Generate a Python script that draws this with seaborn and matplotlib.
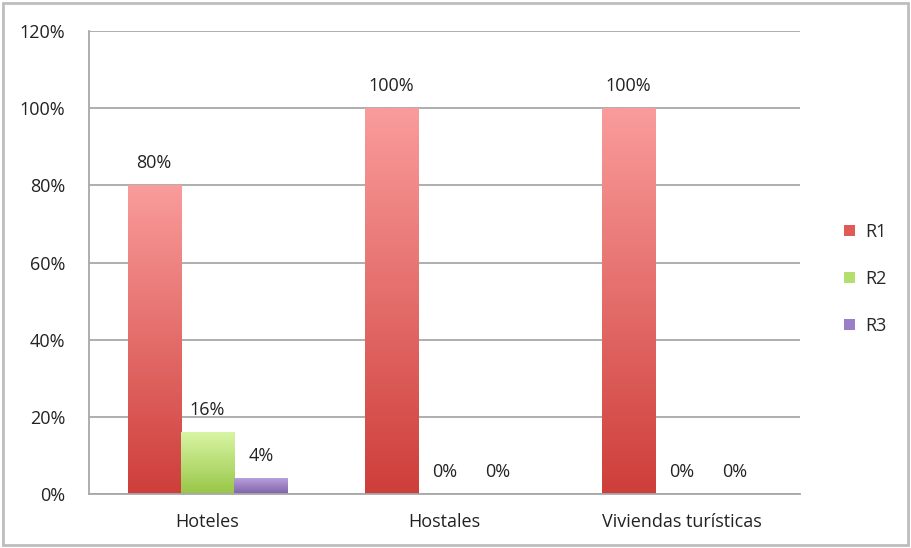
import numpy as np
import pandas as pd
import matplotlib
matplotlib.use("Agg")
import matplotlib.pyplot as plt
import seaborn as sns
from matplotlib.colors import LinearSegmentedColormap
from matplotlib.patches import Rectangle
from matplotlib.ticker import FuncFormatter, FixedLocator

categories = ["Hoteles", "Hostales", "Viviendas turísticas"]
series = ["R1", "R2", "R3"]
r1 = [80, 100, 100]
r2 = [16, 0, 0]
r3 = [4, 0, 0]

# gradient (top colour, bottom colour) per series
gradients = {
    "R1": ("#F99C9B", "#CE3E3A"),
    "R2": ("#D8F5A4", "#98C648"),
    "R3": ("#B8A0DC", "#7F62A8"),
}
legend_colors = {"R1": "#E05A58", "R2": "#B4DE6E", "R3": "#9A7EC8"}

df = pd.DataFrame({
    "cat": categories * 3,
    "serie": ["R1"] * 3 + ["R2"] * 3 + ["R3"] * 3,
    "val": r1 + r2 + r3,
})

sns.set_style("white")
plt.rcParams["font.family"] = ["Open Sans", "DejaVu Sans"]
FS = 13

fig = plt.figure(figsize=(9.11, 5.48), dpi=100)
ax = fig.add_axes([89 / 911, 1 - 494 / 548, (800 - 89) / 911, (494 - 31) / 548])

sns.barplot(data=df, x="cat", y="val", hue="serie", order=categories,
            hue_order=series, width=0.675, ax=ax, legend=False,
            palette=legend_colors, linewidth=0)

# replace flat fills with vertical gradients
for container, s in zip(ax.containers, series):
    top_c, bot_c = gradients[s]
    cmap = LinearSegmentedColormap.from_list(s, [bot_c, top_c])
    for bar in container:
        h = bar.get_height()
        x0 = bar.get_x()
        w = bar.get_width()
        bar.set_facecolor("none")
        if h > 0:
            grad = np.linspace(0, 1, 256).reshape(-1, 1)
            ax.imshow(grad, cmap=cmap, origin="lower", aspect="auto",
                      extent=[x0, x0 + w, 0, h], zorder=2, interpolation="bilinear")
        ax.annotate(f"{int(round(h))}%", (x0 + w / 2, h), xytext=(0, 16),
                    textcoords="offset points", ha="center", va="center",
                    fontsize=FS, color="#222222")
ax.set_xlim(-0.5, 2.5)
ax.set_ylim(0, 120)

ax.set_yticks(np.arange(0, 121, 20))
ax.yaxis.set_major_formatter(FuncFormatter(lambda v, p: f"{int(v)}%"))
ax.grid(axis="y", color="#A8A8A8", linewidth=1.3, zorder=0)
ax.set_axisbelow(True)

ax.set_xticks(range(3))
ax.set_xticklabels(categories)
ax.xaxis.set_minor_locator(FixedLocator([-0.5, 0.5, 1.5, 2.5]))
ax.tick_params(axis="x", which="major", length=0, pad=14, labelsize=FS, labelcolor="#222222")
ax.tick_params(axis="x", which="minor", length=5, width=1, color="#A8A8A8", direction="out")
ax.tick_params(axis="y", length=6, width=1.2, color="#A8A8A8", direction="out",
               pad=11, labelsize=FS, labelcolor="#222222")
ax.set_xlabel("")
ax.set_ylabel("")

for side in ["top", "right"]:
    ax.spines[side].set_visible(False)
for side in ["left", "bottom"]:
    ax.spines[side].set_color("#A8A8A8")
    ax.spines[side].set_linewidth(1.3)

# legend
handles = [Rectangle((0, 0), 1, 1, facecolor=legend_colors[s], edgecolor="none") for s in series]
fig.legend(handles, series, loc="center left", bbox_to_anchor=(828 / 911, 1 - 279 / 548),
           frameon=False, fontsize=FS, handlelength=0.6, handleheight=0.6,
           labelspacing=1.6, handletextpad=0.55)

# outer chart border
fig.patches.append(Rectangle((3 / 911, 3 / 548), 905 / 911, 542 / 548, transform=fig.transFigure,
                             fill=False, edgecolor="#BDBDBD", linewidth=2))

fig.savefig("out.png", dpi=100)
